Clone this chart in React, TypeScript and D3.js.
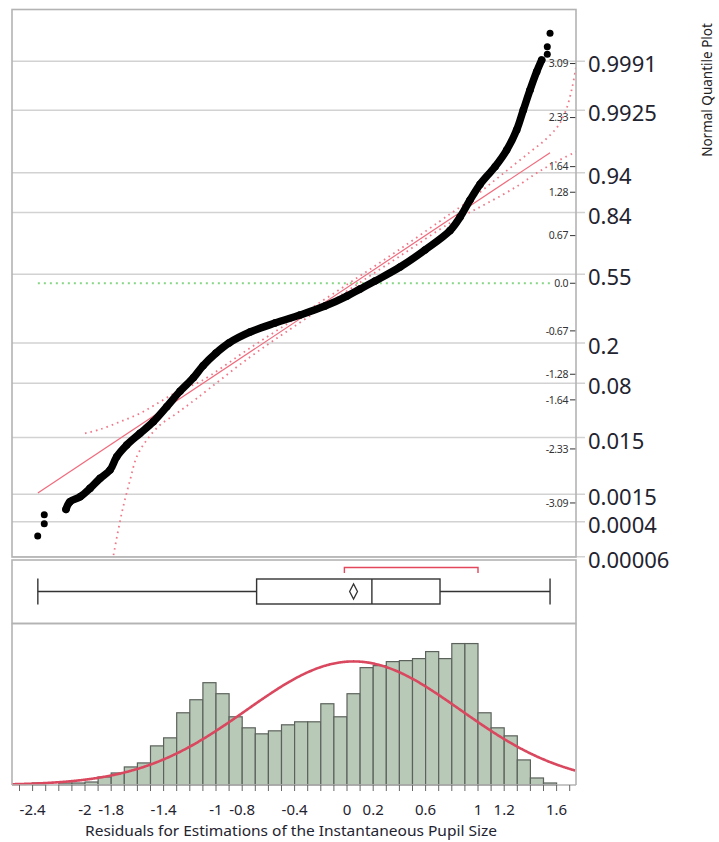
import React from "react";
import * as d3 from "d3";

// ---------- data ----------
const probLabels = ["0.9991", "0.9925", "0.94", "0.84", "0.55", "0.2", "0.08", "0.015", "0.0015", "0.0004", "0.00006"];
const quantileTicks = [3.09, 2.33, 1.64, 1.28, 0.67, 0.0, -0.67, -1.28, -1.64, -2.33, -3.09];
const quantileTickLabels = ["3.09", "2.33", "1.64", "1.28", "0.67", "0.0", "-0.67", "-1.28", "-1.64", "-2.33", "-3.09"];

// normal quantile plot: sorted residuals vs. normal quantile
const qqBodyResidual = [-2.145, -2.115, -2.038, -1.962, -1.885, -1.809, -1.758, -1.682, -1.58, -1.479, -1.376, -1.275, -1.173, -1.099, -1.0, -0.901, -0.74, -0.55, -0.359, -0.168, 0.0, 0.099, 0.214, 0.405, 0.595, 0.786, 0.863, 0.939, 1.015, 1.13, 1.219, 1.295, 1.346, 1.397, 1.448, 1.486];
const qqBodyQuantile = [-3.18, -3.073, -3.003, -2.885, -2.744, -2.627, -2.44, -2.276, -2.111, -1.948, -1.737, -1.52, -1.33, -1.16, -0.982, -0.84, -0.686, -0.56, -0.447, -0.321, -0.18, -0.082, 0.031, 0.228, 0.467, 0.74, 0.93, 1.17, 1.39, 1.639, 1.873, 2.155, 2.436, 2.717, 2.975, 3.139];
const qqTailResidual = [-2.361, -2.311, -2.311, 1.529, 1.529, 1.55];
const qqTailQuantile = [-3.556, -3.383, -3.256, 3.219, 3.326, 3.515];

// confidence bands
const bandUpperResidual = [-2.0, -1.885, -1.733, -1.58, -1.427, -1.275, -1.122, -0.74, -0.359, 0.023, 0.405, 0.786, 0.939, 1.092, 1.244, 1.397, 1.511, 1.611, 1.672, 1.718, 1.748];
const bandUpperQuantile = [-2.111, -2.055, -1.948, -1.83, -1.667, -1.502, -1.385, -0.911, -0.454, 0.01, 0.481, 0.973, 1.17, 1.395, 1.62, 1.845, 2.014, 2.211, 2.436, 2.745, 3.041];
const bandLowerResidual = [-1.79, -1.72, -1.656, -1.605, -1.529, -1.427, -1.3, -1.147, -0.74, -0.359, 0.023, 0.405, 0.786, 1.015, 1.193, 1.321, 1.448, 1.575, 1.748];
const bandLowerQuantile = [-3.9, -3.236, -2.768, -2.44, -2.205, -1.994, -1.83, -1.619, -1.038, -0.553, -0.082, 0.383, 0.847, 1.072, 1.25, 1.39, 1.55, 1.686, 1.85];

// fitted normal
const fitMean = 0.05;
const fitSd = 0.817;
const dataMin = -2.36;
const dataMax = 1.55;

// histogram
const binStart = -2.4;
const binWidth = 0.1;
const histCounts = [2, 0, 2, 2, 3, 8, 12, 18, 22, 39, 47, 72, 85, 102, 91, 68, 57, 51, 54, 60, 63, 63, 81, 68, 91, 117, 119, 123, 124, 126, 133, 126, 141, 141, 72, 57, 49, 25, 7, 2];

// box plot
const boxQ1 = -0.69;
const boxMedian = 0.19;
const boxQ3 = 0.71;
const meanCI = [0.02, 0.08];
const shortestHalf = [-0.02, 1.0];

const xTickValues = [-2.4, -2, -1.8, -1.4, -1, -0.8, -0.4, 0, 0.2, 0.6, 1, 1.2, 1.6];

// ---------- helpers ----------
function qnorm(p: number): number {
  const a = [-3.969683028665376e1, 2.209460984245205e2, -2.759285104469687e2, 1.38357751867269e2, -3.066479806614716e1, 2.506628277459239];
  const b = [-5.447609879822406e1, 1.615858368580409e2, -1.556989798598866e2, 6.680131188771972e1, -1.328068155288572e1];
  const c = [-7.784894002430293e-3, -3.223964580411365e-1, -2.400758277161838, -2.549732539343734, 4.374664141464968, 2.938163982698783];
  const d = [7.784695709041462e-3, 3.224671290700398e-1, 2.445134137142996, 3.754408661907416];
  const plow = 0.02425;
  if (p < plow) {
    const q = Math.sqrt(-2 * Math.log(p));
    return (((((c[0] * q + c[1]) * q + c[2]) * q + c[3]) * q + c[4]) * q + c[5]) / ((((d[0] * q + d[1]) * q + d[2]) * q + d[3]) * q + 1);
  }
  if (p <= 1 - plow) {
    const q = p - 0.5;
    const r = q * q;
    return ((((((a[0] * r + a[1]) * r + a[2]) * r + a[3]) * r + a[4]) * r + a[5]) * q) / (((((b[0] * r + b[1]) * r + b[2]) * r + b[3]) * r + b[4]) * r + 1);
  }
  const q = Math.sqrt(-2 * Math.log(1 - p));
  return -(((((c[0] * q + c[1]) * q + c[2]) * q + c[3]) * q + c[4]) * q + c[5]) / ((((d[0] * q + d[1]) * q + d[2]) * q + d[3]) * q + 1);
}

const FONT = "'Noto Sans', 'Open Sans', sans-serif";

export default function App() {
  const W = 719;
  const H = 842;
  const left = 12;
  const right = 576;
  const qqTop = 9.5;
  const qqBottom = 557;
  const boxTop = 560;
  const boxBottom = 623.5;
  const histTop = 623.5;
  const histBottom = 785;

  const x = d3.scaleLinear().domain([-2.4, 1.6]).range([32.6, 556.6]);
  const yq = d3.scaleLinear().domain([-3.85, 3.85]).range([qqBottom, qqTop]);
  const yh = d3.scaleLinear().domain([0, 161]).range([histBottom, histTop]);

  const body = qqBodyResidual.map((r, i) => [r, qqBodyQuantile[i]] as [number, number]);
  const tails = qqTailResidual.map((r, i) => [r, qqTailQuantile[i]] as [number, number]);
  const upper = bandUpperResidual.map((r, i) => [r, bandUpperQuantile[i]] as [number, number]);
  const lower = bandLowerResidual.map((r, i) => [r, bandLowerQuantile[i]] as [number, number]);

  const qqLine = d3
    .line<[number, number]>()
    .x((d) => x(d[0]))
    .y((d) => yq(d[1]))
    .curve(d3.curveCatmullRom.alpha(0.5));

  const fitLine = d3
    .line<number>()
    .x((r) => x(r))
    .y((r) => yq((r - fitMean) / fitSd));

  const N = d3.sum(histCounts);
  const pdf = (v: number) => Math.exp(-0.5 * ((v - fitMean) / fitSd) ** 2) / (fitSd * Math.sqrt(2 * Math.PI));
  const dLo = x.invert(left);
  const dHi = x.invert(right);
  const curveXs = d3.range(dLo, dHi + 0.001, 0.01);
  const normalPath = d3
    .line<number>()
    .x((v) => x(v))
    .y((v) => yh(N * binWidth * pdf(v)))
    .curve(d3.curveBasis)(curveXs);

  const minorTicks = d3.range(-25, 18).map((k) => k / 10);

  const boxCy = 591.5;
  const boxHalf = 12.5;

  return (
    <div style={{ position: "absolute", left: 0, top: 0 }}>
      <svg width={W} height={H} style={{ display: "block", background: "#fff" }} fontFamily={FONT}>
        <defs>
          <clipPath id="qqclip">
            <rect x={left} y={qqTop} width={right - left} height={qqBottom - qqTop} />
          </clipPath>
        </defs>

        {/* ---------- normal quantile plot panel ---------- */}
        {probLabels.map((p) => {
          const yy = yq(qnorm(+p));
          return (
            <g key={p}>
              <line x1={left} x2={right + 9} y1={yy} y2={yy} stroke="#d2d2d2" strokeWidth={1.5} />
              <text x={588} y={yy + 11} fontSize={22} fill="#1f2430">
                {p}
              </text>
            </g>
          );
        })}
        {quantileTicks.map((q, i) => (
          <g key={q}>
            <line x1={right - 6} x2={right} y1={yq(q)} y2={yq(q)} stroke="#333" strokeWidth={1} />
            <text x={right - 8} y={yq(q)} dy="0.35em" fontSize={10.5} textAnchor="end" fill="#333" letterSpacing={-0.4}>
              {quantileTickLabels[i]}
            </text>
          </g>
        ))}

        <g clipPath="url(#qqclip)">
          <line x1={x(dataMin)} x2={x(dataMax)} y1={yq(0)} y2={yq(0)} stroke="#86d686" strokeWidth={2} strokeDasharray="2 4" />
          <path d={qqLine(upper) || ""} fill="none" stroke="#f07888" strokeWidth={1.8} strokeDasharray="1.6 4" />
          <path d={qqLine(lower) || ""} fill="none" stroke="#f07888" strokeWidth={1.8} strokeDasharray="1.6 4" />
          <path d={fitLine([dataMin, dataMax]) || ""} fill="none" stroke="#f06a7c" strokeWidth={1.2} />
          <path d={qqLine(body) || ""} fill="none" stroke="#000" strokeWidth={7.5} strokeLinecap="round" strokeLinejoin="round" />
          {body.map((d, i) => (
            <circle key={"b" + i} cx={x(d[0])} cy={yq(d[1])} r={3.8} fill="#000" />
          ))}
          {tails.map((d, i) => (
            <circle key={"t" + i} cx={x(d[0])} cy={yq(d[1])} r={3.5} fill="#000" />
          ))}
        </g>
        <rect x={left} y={qqTop} width={right - left} height={qqBottom - qqTop} fill="none" stroke="#b3b3b3" strokeWidth={1.6} />

        <text transform={`translate(712, 90) rotate(-90)`} fontSize={13.5} textAnchor="middle" fill="#222">
          Normal Quantile Plot
        </text>

        {/* ---------- box plot panel ---------- */}
        <rect x={left} y={boxTop} width={right - left} height={boxBottom - boxTop} fill="none" stroke="#b3b3b3" strokeWidth={1.6} />
        <line x1={x(dataMin)} x2={x(boxQ1)} y1={boxCy} y2={boxCy} stroke="#333" strokeWidth={1.4} />
        <line x1={x(boxQ3)} x2={x(dataMax)} y1={boxCy} y2={boxCy} stroke="#333" strokeWidth={1.4} />
        <line x1={x(dataMin)} x2={x(dataMin)} y1={boxCy - 13} y2={boxCy + 13} stroke="#333" strokeWidth={1.4} />
        <line x1={x(dataMax)} x2={x(dataMax)} y1={boxCy - 13} y2={boxCy + 13} stroke="#333" strokeWidth={1.4} />
        <rect x={x(boxQ1)} y={boxCy - boxHalf} width={x(boxQ3) - x(boxQ1)} height={boxHalf * 2} fill="#fff" stroke="#333" strokeWidth={1.4} />
        <line x1={x(boxMedian)} x2={x(boxMedian)} y1={boxCy - boxHalf} y2={boxCy + boxHalf} stroke="#333" strokeWidth={1.4} />
        <path
          d={`M${x(meanCI[0])},${boxCy} L${x(fitMean)},${boxCy - 7.5} L${x(meanCI[1])},${boxCy} L${x(fitMean)},${boxCy + 7.5} Z`}
          fill="none"
          stroke="#333"
          strokeWidth={1.3}
        />
        <path
          d={`M${x(shortestHalf[0])},573 L${x(shortestHalf[0])},567.5 L${x(shortestHalf[1])},567.5 L${x(shortestHalf[1])},573`}
          fill="none"
          stroke="#e2475c"
          strokeWidth={1.4}
        />

        {/* ---------- histogram panel ---------- */}
        {histCounts.map((c, i) => {
          if (c <= 0) return null;
          const x0 = x(binStart + i * binWidth);
          const x1 = x(binStart + (i + 1) * binWidth);
          return <rect key={i} x={x0} y={yh(c)} width={x1 - x0} height={histBottom - yh(c)} fill="#b9c9b8" stroke="#5b615b" strokeWidth={1.2} />;
        })}
        <path d={normalPath || ""} fill="none" stroke="#d9485e" strokeWidth={2.6} />
        <line x1={left} x2={left} y1={histTop} y2={histBottom} stroke="#b3b3b3" strokeWidth={1.6} />
        <line x1={right} x2={right} y1={histTop} y2={histBottom} stroke="#b3b3b3" strokeWidth={1.6} />
        <line x1={left} x2={right} y1={histTop} y2={histTop} stroke="#b3b3b3" strokeWidth={1.6} />
        <line x1={left} x2={right} y1={histBottom} y2={histBottom} stroke="#b3b3b3" strokeWidth={1.6} />

        {/* x axis */}
        {minorTicks.map((t) => (
          <line key={t} x1={x(t)} x2={x(t)} y1={histBottom} y2={histBottom + 6} stroke="#666" strokeWidth={1} />
        ))}
        {xTickValues.map((t) => (
          <text key={t} x={x(t)} y={815} fontSize={15} textAnchor="middle" fill="#1f2430">
            {String(t)}
          </text>
        ))}
        <text x={291} y={836} fontSize={14.5} textAnchor="middle" fill="#1f2430" textLength={412} lengthAdjust="spacingAndGlyphs">
          Residuals for Estimations of the Instantaneous Pupil Size
        </text>
      </svg>
    </div>
  );
}
